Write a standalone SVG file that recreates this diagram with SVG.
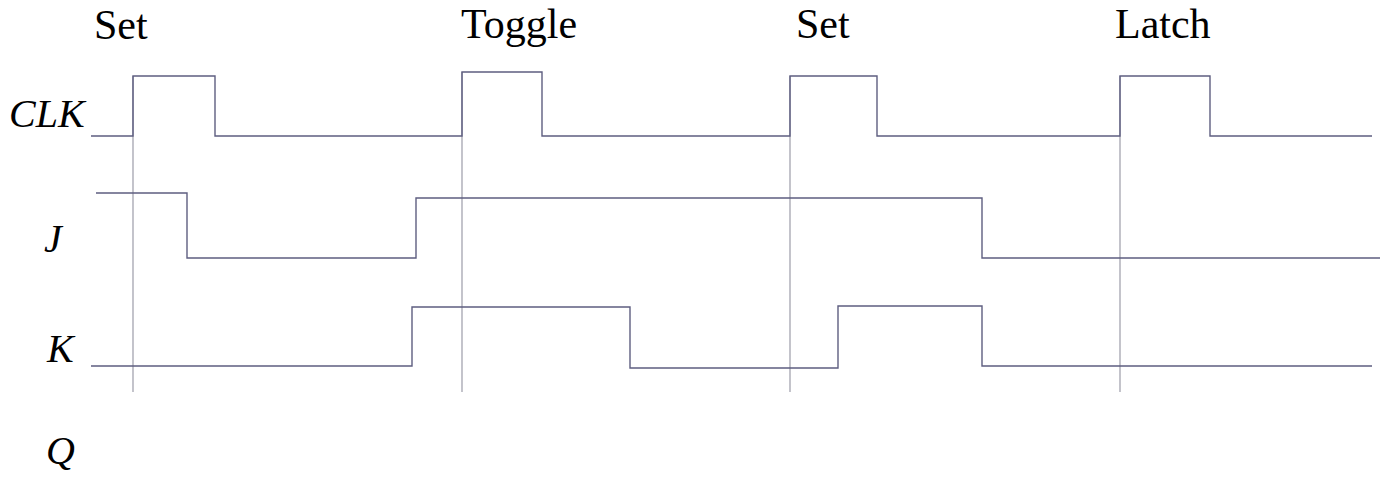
<svg xmlns="http://www.w3.org/2000/svg" width="1384" height="479" viewBox="0 0 1384 479">
<style>
.t{font-family:"Liberation Serif","Times New Roman",serif;font-size:42px;fill:#000}
.i{font-family:"Liberation Serif","Times New Roman",serif;font-size:40px;font-style:italic;fill:#000}
.w{fill:none;stroke:#5e5e80;stroke-width:1.4}
.g{fill:none;stroke:#9c9ca8;stroke-width:1.2}
</style>
<rect width="1384" height="479" fill="#fff"/>
<g id="markers" class="g">
<line x1="133" y1="76" x2="133" y2="392"/>
<line x1="462" y1="72" x2="462" y2="392"/>
<line x1="790" y1="76" x2="790" y2="392"/>
<line x1="1120" y1="76" x2="1120" y2="392"/>
</g>
<g id="waves" class="w">
<path id="clk" d="M91 136H133V76H215V136H462V72H542V136H790V76H877V136H1120V76H1210V136H1372"/>
<path id="j" d="M96 193H187V258H416V198H982V258H1380"/>
<path id="k" d="M91 366H412V307H630V368H838V306H982V366H1372"/>
</g>
<g id="events">
<text class="t" x="94" y="39">Set</text>
<text class="t" x="461" y="38">Toggle</text>
<text class="t" x="796" y="38">Set</text>
<text class="t" x="1115" y="38">Latch</text>
</g>
<g id="labels">
<text class="i" x="9" y="127">CLK</text>
<text class="i" x="44" y="252">J</text>
<text class="i" x="47" y="362">K</text>
<text class="i" x="46" y="464">Q</text>
</g>
</svg>
